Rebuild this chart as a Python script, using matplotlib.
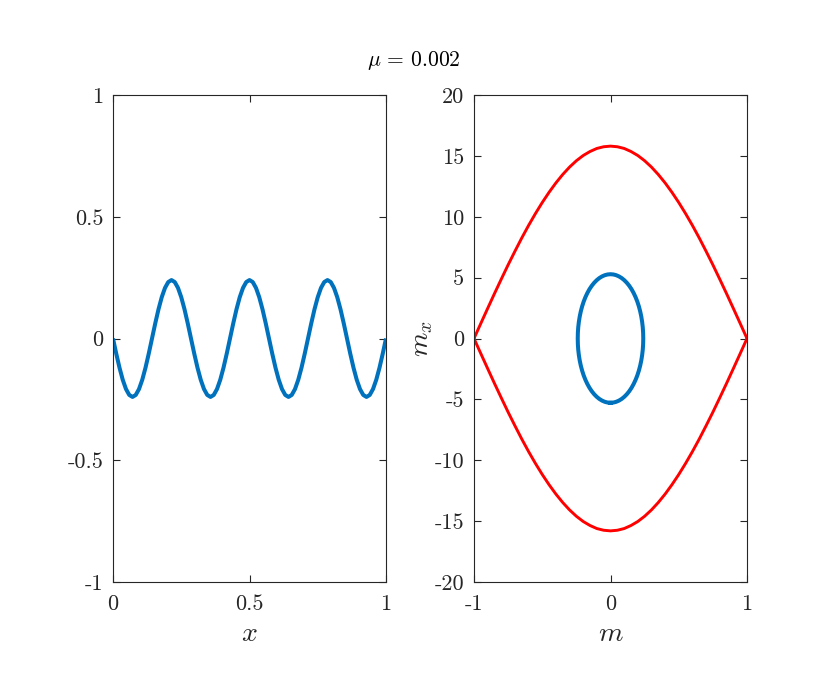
import numpy as np
import matplotlib
matplotlib.use("Agg")
import matplotlib.pyplot as plt
from matplotlib.ticker import FixedLocator, FixedFormatter

plt.rcParams['font.family'] = 'serif'
plt.rcParams['font.serif'] = ['cmr10', 'DejaVu Serif']
plt.rcParams['mathtext.fontset'] = 'cm'
plt.rcParams['axes.unicode_minus'] = False
plt.rcParams['axes.formatter.use_mathtext'] = True

# ---------------- data ----------------
title_text = r'$\mu\,=\,0.002$'

# left panel: m(x), sampled every 1/84
x_curve = np.linspace(0, 1, 85)
m_curve = [
    0, -.0621, -.120, -.1697, -.2078, -.2318, -.24, -.2318, -.2078, -.1697, -.120, -.0621,
    0, .0621, .120, .1697, .2078, .2318, .24, .2318, .2078, .1697, .120, .0621,
    0, -.0621, -.120, -.1697, -.2078, -.2318, -.24, -.2318, -.2078, -.1697, -.120, -.0621,
    0, .0621, .120, .1697, .2078, .2318, .24, .2318, .2078, .1697, .120, .0621,
    0, -.0621, -.120, -.1697, -.2078, -.2318, -.24, -.2318, -.2078, -.1697, -.120, -.0621,
    0, .0621, .120, .1697, .2078, .2318, .24, .2318, .2078, .1697, .120, .0621,
    0, -.0621, -.120, -.1697, -.2078, -.2318, -.24, -.2318, -.2078, -.1697, -.120, -.0621,
    0,
]

# right panel: closed orbit (m, m_x)
orbit_m = [
    0, -.0209, -.0417, -.0621, -.0821, -.1014, -.120, -.1377, -.1543, -.1697, -.1838, -.1966, -.2078, -.2175, -.2255, -.2318, -.2364, -.2391, -.24,
    -.2391, -.2364, -.2318, -.2255, -.2175, -.2078, -.1966, -.1838, -.1697, -.1543, -.1377, -.120, -.1014, -.0821, -.0621, -.0417, -.0209, 0,
    .0209, .0417, .0621, .0821, .1014, .120, .1377, .1543, .1697, .1838, .1966, .2078, .2175, .2255, .2318, .2364, .2391, .24,
    .2391, .2364, .2318, .2255, .2175, .2078, .1966, .1838, .1697, .1543, .1377, .120, .1014, .0821, .0621, .0417, .0209, 0,
]
orbit_mx = [
    -5.28, -5.26, -5.20, -5.10, -4.962, -4.785, -4.572, -4.325, -4.045, -3.733, -3.394, -3.029, -2.64, -2.231, -1.806, -1.366, -.917, -.460, 0,
    .460, .917, 1.366, 1.806, 2.231, 2.64, 3.029, 3.394, 3.733, 4.045, 4.325, 4.572, 4.785, 4.962, 5.10, 5.20, 5.26, 5.28,
    5.26, 5.20, 5.10, 4.962, 4.785, 4.572, 4.325, 4.045, 3.733, 3.394, 3.029, 2.64, 2.231, 1.806, 1.366, .917, .460, 0,
    -.460, -.917, -1.366, -1.806, -2.231, -2.64, -3.029, -3.394, -3.733, -4.045, -4.325, -4.572, -4.785, -4.962, -5.10, -5.20, -5.26, -5.28,
]

# separatrix (upper branch; lower branch is its mirror)
sep_m = np.linspace(-1, 1, 41)
sep_mx_upper = [
    0, 1.24, 2.47, 3.69, 4.88, 6.05, 7.17, 8.26, 9.29, 10.26, 11.17, 12.01, 12.78, 13.47, 14.08, 14.60, 15.03, 15.36, 15.61, 15.75,
    15.80,
    15.75, 15.61, 15.36, 15.03, 14.60, 14.08, 13.47, 12.78, 12.01, 11.17, 10.26, 9.29, 8.26, 7.17, 6.05, 4.88, 3.69, 2.47, 1.24, 0,
]
sep_mx_lower = [-v for v in sep_mx_upper]

left_xticks = [0, 0.5, 1]
left_xticklabels = ['0', '0.5', '1']
left_yticks = [-1, -0.5, 0, 0.5, 1]
left_yticklabels = ['-1', '-0.5', '0', '0.5', '1']
right_xticks = [-1, 0, 1]
right_xticklabels = ['-1', '0', '1']
right_yticks = [-20, -15, -10, -5, 0, 5, 10, 15, 20]
right_yticklabels = ['-20', '-15', '-10', '-5', '0', '5', '10', '15', '20']

# ---------------- figure ----------------
W, H = 830, 686
fig = plt.figure(figsize=(W / 100, H / 100), dpi=100)
axL = fig.add_axes([113 / W, (H - 582) / H, 273 / W, 487 / H])
axR = fig.add_axes([474 / W, (H - 582) / H, 273 / W, 487 / H])

blue = '#0072BD'
axis_col = '#262626'
tick_fs = 16

axL.plot(x_curve, m_curve, color=blue, lw=2.9, solid_capstyle='butt')
axR.plot(sep_m, sep_mx_upper, color='#FF0000', lw=2.1)
axR.plot(sep_m, sep_mx_lower, color='#FF0000', lw=2.1)
axR.plot(orbit_m, orbit_mx, color=blue, lw=2.9)

def style(ax, xt, xtl, yt, ytl, xlim, ylim):
    ax.set_xlim(*xlim)
    ax.set_ylim(*ylim)
    ax.xaxis.set_major_locator(FixedLocator(xt))
    ax.xaxis.set_major_formatter(FixedFormatter(xtl))
    ax.yaxis.set_major_locator(FixedLocator(yt))
    ax.yaxis.set_major_formatter(FixedFormatter(ytl))
    ax.tick_params(direction='in', length=5, width=0.8, color=axis_col,
                   top=True, right=True, labelsize=tick_fs, labelcolor='#262626', pad=7)
    ax.tick_params(axis='x', pad=9)
    for s in ax.spines.values():
        s.set_color(axis_col)
        s.set_linewidth(0.8)

style(axL, left_xticks, left_xticklabels, left_yticks, left_yticklabels, (0, 1), (-1, 1))
style(axR, right_xticks, right_xticklabels, right_yticks, right_yticklabels, (-1, 1), (-20, 20))

axL.set_xlabel(r'$x$', fontsize=20, color='#262626', labelpad=5)
axR.set_xlabel(r'$m$', fontsize=20, color='#262626', labelpad=5)
axR.set_ylabel(r'$m_x$', fontsize=20, color='#262626', labelpad=0)

fig.text(414 / W, 1 - 60 / H, title_text, ha='center', va='center', fontsize=15.5, color='black')

fig.savefig('out.png', dpi=100)
